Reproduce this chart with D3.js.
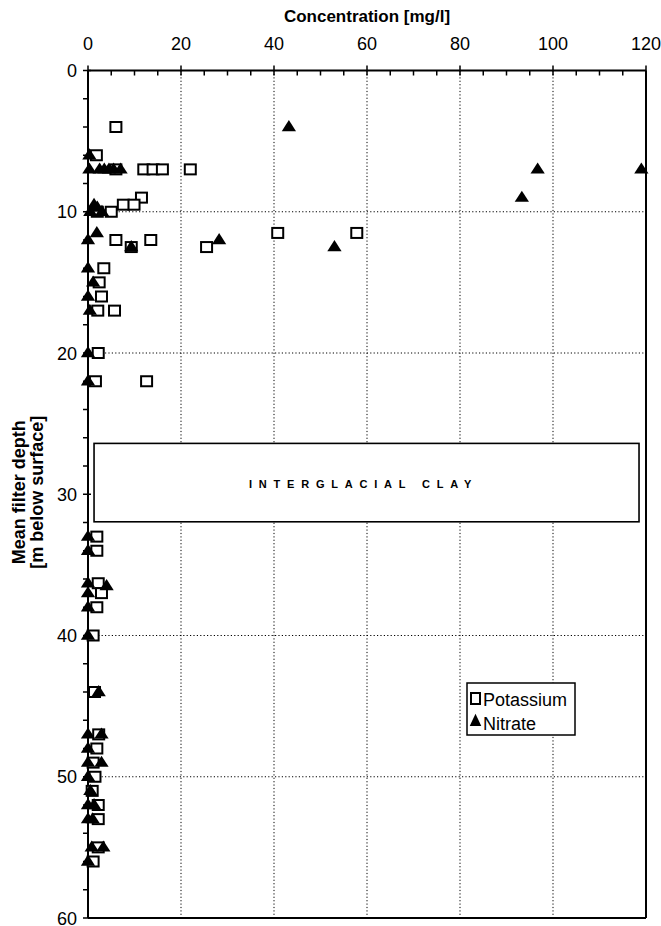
<!DOCTYPE html>
<html>
<head>
<meta charset="utf-8">
<script src="https://d3js.org/d3.v7.min.js"></script>
<style>
  body { margin: 0; background: #fff; }
  svg { display: block; font-family: 'Liberation Sans', Arial, sans-serif; }
  .grid line { stroke: #000; stroke-width: 1; stroke-dasharray: 1.2, 2.2; }
  .lbl { font-size: 18px; fill: #000; }
</style>
</head>
<body>
<div id="holder"></div>
<script>
  // Data: [concentration mg/l, mean filter depth m]
  const potassium = [
    [6, 4], [1.8, 6], [6, 7], [12, 7], [14, 7], [16, 7], [22, 7],
    [11.5, 9], [7.6, 9.5], [9.9, 9.5], [5, 10], [2, 10],
    [6, 12], [9.3, 12.5], [13.5, 12], [25.5, 12.5], [40.8, 11.5], [57.8, 11.5],
    [3.4, 14], [2.4, 15], [2.9, 16], [2.1, 17], [5.7, 17], [2.2, 20], [1.6, 22], [12.6, 22],
    [1.9, 33], [1.9, 34], [2.2, 36.3], [2.9, 37], [1.9, 38], [1.1, 40], [1.4, 44],
    [2.3, 47], [1.9, 48], [1.1, 49], [1.5, 50], [0.9, 51], [2.2, 52], [2.2, 53],
    [2.2, 55], [1.1, 56]
  ];
  const nitrate = [
    [43.2, 4], [0.3, 6], [0.3, 7], [2.5, 7], [3.5, 7], [4.5, 7], [5.5, 7], [7, 7],
    [96.7, 7], [119, 7], [93.3, 9], [0.5, 10], [1.3, 9.5], [2, 9.7], [3, 10],
    [1.9, 11.5], [0, 12], [9.3, 12.5], [28.2, 12], [53, 12.5],
    [0, 14], [1.1, 15], [0, 16], [0.4, 17], [0, 20], [0, 22],
    [0, 33], [0, 34], [0, 36.3], [4, 36.5], [0, 37], [0, 38], [0, 40], [2.3, 44],
    [0, 47], [2.9, 47], [0, 48], [0, 49], [2.9, 49], [0, 50], [0.5, 51],
    [0, 52], [1.3, 52], [0, 53], [1, 53], [0.8, 55], [3.3, 55], [0, 56]
  ];
  const xTicks = [0, 20, 40, 60, 80, 100, 120];
  const yTicks = [0, 10, 20, 30, 40, 50, 60];
  const gridX = [20, 40, 60, 80, 100];
  const gridY = [10, 20, 40, 50];
  const clayConc = [1.3, 118.5];
  const clayDepth = [26.4, 31.95];
  const clayText = 'INTERGLACIAL CLAY';

  const w = 661, h = 926;
  const mLeft = 88, mRight = 646, mTop = 70.5, mBottom = 918;

  const x = d3.scaleLinear().domain([0, 120]).range([mLeft, mRight]);
  const y = d3.scaleLinear().domain([0, 60]).range([mTop, mBottom]);

  const svg = d3.select('#holder').append('svg')
    .attr('width', w).attr('height', h);

  // grid
  const grid = svg.append('g').attr('class', 'grid');
  grid.selectAll('.gx').data(gridX).enter().append('line')
    .attr('x1', d => x(d)).attr('x2', d => x(d))
    .attr('y1', mTop).attr('y2', mBottom);
  grid.selectAll('.gy').data(gridY).enter().append('line')
    .attr('x1', mLeft).attr('x2', mRight)
    .attr('y1', d => y(d)).attr('y2', d => y(d));

  // clay box
  svg.append('rect')
    .attr('x', x(clayConc[0])).attr('y', y(clayDepth[0]))
    .attr('width', x(clayConc[1]) - x(clayConc[0]))
    .attr('height', y(clayDepth[1]) - y(clayDepth[0]))
    .attr('fill', '#fff').attr('stroke', '#000').attr('stroke-width', 1.6);
  svg.append('text')
    .attr('x', (x(clayConc[0]) + x(clayConc[1])) / 2 - 3)
    .attr('y', (y(clayDepth[0]) + y(clayDepth[1])) / 2 + 5)
    .attr('text-anchor', 'middle')
    .style('font-size', '11px').style('font-weight', 'bold')
    .style('letter-spacing', '6.8px')
    .text(clayText);

  // frame (right and bottom)
  svg.append('line').attr('x1', mRight).attr('x2', mRight).attr('y1', mTop).attr('y2', mBottom)
    .attr('stroke', '#000').attr('stroke-width', 2);
  svg.append('line').attr('x1', mLeft).attr('x2', mRight).attr('y1', mBottom).attr('y2', mBottom)
    .attr('stroke', '#000').attr('stroke-width', 2);

  // axes
  const xAxis = svg.append('g').attr('transform', 'translate(0,' + mTop + ')');
  xAxis.append('line').attr('x1', mLeft).attr('x2', mRight)
    .attr('stroke', '#000').attr('stroke-width', 2);
  xAxis.selectAll('.mt').data(d3.range(0, 121, 5)).enter().append('line')
    .attr('x1', d => x(d)).attr('x2', d => x(d))
    .attr('y1', d => d % 20 === 0 ? -5 : 0).attr('y2', 5)
    .attr('stroke', '#000').attr('stroke-width', 1.5);
  xAxis.selectAll('.tl').data(xTicks).enter().append('text')
    .attr('class', 'lbl')
    .attr('x', d => x(d)).attr('y', -21)
    .attr('text-anchor', 'middle')
    .text(d => d);

  const yAxis = svg.append('g').attr('transform', 'translate(' + mLeft + ',0)');
  yAxis.append('line').attr('y1', mTop).attr('y2', mBottom)
    .attr('stroke', '#000').attr('stroke-width', 2);
  yAxis.selectAll('.mt').data(d3.range(0, 61, 2)).enter().append('line')
    .attr('y1', d => y(d)).attr('y2', d => y(d))
    .attr('x1', -5).attr('x2', d => d % 10 === 0 ? 3 : 0)
    .attr('stroke', '#000').attr('stroke-width', 1.5);
  yAxis.selectAll('.tl').data(yTicks).enter().append('text')
    .attr('class', 'lbl')
    .attr('x', -11).attr('y', d => y(d) + 6.5)
    .attr('text-anchor', 'end')
    .text(d => d);

  // titles
  svg.append('text')
    .attr('x', (mLeft + mRight) / 2).attr('y', 22)
    .attr('text-anchor', 'middle')
    .style('font-size', '17px').style('font-weight', 'bold')
    .text('Concentration [mg/l]');
  const yt = svg.append('text')
    .attr('transform', 'translate(25,' + ((mTop + mBottom) / 2 - 2) + ') rotate(-90)')
    .attr('text-anchor', 'middle')
    .style('font-size', '18px').style('font-weight', 'bold');
  yt.append('tspan').attr('x', 0).attr('y', 0).text('Mean filter depth');
  yt.append('tspan').attr('x', 0).attr('y', 18).text('[m below surface]');

  // markers
  const tri = d3.symbol().type(d3.symbolTriangle).size(80);
  svg.append('g').selectAll('rect').data(potassium).enter().append('rect')
    .attr('x', d => x(d[0]) - 5.5).attr('y', d => y(d[1]) - 5)
    .attr('width', 11).attr('height', 10)
    .attr('fill', '#fff').attr('stroke', '#000').attr('stroke-width', 2);
  svg.append('g').selectAll('path').data(nitrate).enter().append('path')
    .attr('d', tri)
    .attr('transform', d => 'translate(' + x(d[0]) + ',' + (y(d[1]) + 0.5) + ') scale(1.05,0.95)')
    .attr('fill', '#000');

  // legend
  const lg = svg.append('g').attr('transform', 'translate(467,683)');
  lg.append('rect').attr('width', 108).attr('height', 52)
    .attr('fill', '#fff').attr('stroke', '#000').attr('stroke-width', 1.5);
  lg.append('rect').attr('x', 4).attr('y', 10).attr('width', 9).attr('height', 11)
    .attr('fill', '#fff').attr('stroke', '#000').attr('stroke-width', 2);
  lg.append('path').attr('d', tri)
    .attr('transform', 'translate(8.5,39) scale(0.85,1.05)').attr('fill', '#000');
  lg.append('text').attr('class', 'lbl').attr('x', 16).attr('y', 22.5).text('Potassium');
  lg.append('text').attr('class', 'lbl').attr('x', 16).attr('y', 47).text('Nitrate');
</script>
</body>
</html>
